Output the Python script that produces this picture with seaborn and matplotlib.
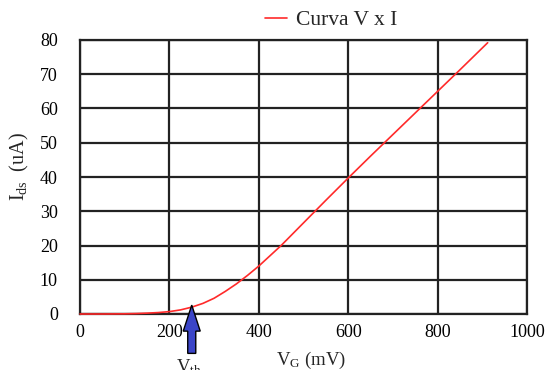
import matplotlib
matplotlib.use("Agg")
import matplotlib.pyplot as plt
import seaborn as sns
import pandas as pd

vg_mv = [0, 50, 100, 125, 150, 175, 200, 225, 250, 275, 300, 325, 350, 375, 400, 425, 450,
         500, 550, 600, 650, 700, 750, 800, 850, 912]
ids_ua = [0, 0, 0.05, 0.12, 0.25, 0.42, 0.7, 1.2, 2.0, 3.1, 4.6, 6.6, 8.8, 11.3, 14.0, 17.0, 20.0,
          26.6, 33.2, 39.7, 46.1, 52.4, 58.7, 65.0, 71.3, 79.2]
x_ticks = [0, 200, 400, 600, 800, 1000]
y_ticks = [0, 10, 20, 30, 40, 50, 60, 70, 80]
vth_mv = 250
series_name = "Curva V x I"

sns.set_theme(style="white")
plt.rcParams['font.family'] = ['Liberation Serif', 'DejaVu Serif']
plt.rcParams['mathtext.fontset'] = 'custom'
plt.rcParams['mathtext.rm'] = 'Liberation Serif'
plt.rcParams['mathtext.it'] = 'Liberation Serif'

df = pd.DataFrame({"VG": vg_mv, "Ids": ids_ua, "s": series_name})

fig = plt.figure(figsize=(5.48, 3.70), dpi=100)
ax = fig.add_axes([80 / 548, 56 / 370, 447 / 548, 274 / 370])
sns.lineplot(data=df, x="VG", y="Ids", hue="s", palette=["#ff2a2a"], ax=ax, linewidth=1.2)
for ln in ax.get_lines():
    ln.set_zorder(4)
    ln.set_clip_on(False)

ax.set_xlim(0, 1000)
ax.set_ylim(0, 80)
ax.set_xticks(x_ticks)
ax.set_yticks(y_ticks)
ax.grid(True, color="#222222", linewidth=1.6)
for s in ax.spines.values():
    s.set_color("#222222")
    s.set_linewidth(1.6)
ax.tick_params(axis="both", length=0, labelsize=13, colors="black")
ax.tick_params(axis="y", pad=16)
ax.tick_params(axis="x", pad=7)
ax.set_xlabel("V$_\\mathrm{G}$ (mV)", fontsize=13.5, va="center")
ax.xaxis.set_label_coords(0.517, -0.168)
ax.set_ylabel("I$_\\mathrm{ds}$  (uA)", fontsize=14.5, va="center")
ax.yaxis.set_label_coords(-0.136, 0.54)

leg = ax.legend(loc="center left", bbox_to_anchor=(254 / 548, 1 - 20 / 370),
                bbox_transform=fig.transFigure, frameon=False, borderpad=0,
                fontsize=15.5, handlelength=1.05, handletextpad=0.4)
leg.set_title(None)

ax.arrow(vth_mv, -11.5, 0, 14.1, width=18, head_width=38, head_length=7.6,
         length_includes_head=True, fc="#3b45c8", ec="black", lw=1, clip_on=False, zorder=5)
ax.text(vth_mv - 6, -12.6, "V$_\\mathrm{th}$", ha="center", va="top", fontsize=13.5, clip_on=False)

fig.savefig("out.png", dpi=100)
